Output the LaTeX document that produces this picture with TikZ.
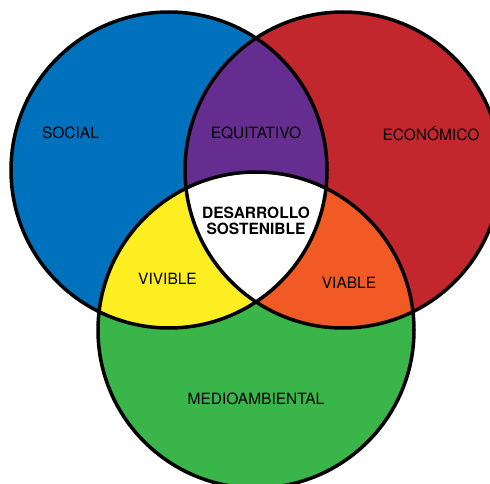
\documentclass[tikz,border=0pt]{standalone}
\usepackage{fontspec}
\setmainfont{TeX Gyre Heros}
\usepackage{tikz}
\usetikzlibrary{positioning}
\definecolor{socialblue}{RGB}{0,113,188}
\definecolor{econred}{RGB}{193,39,45}
\definecolor{envgreen}{RGB}{57,181,74}
\definecolor{eqpurple}{RGB}{102,45,145}
\definecolor{livyellow}{RGB}{252,238,33}
\definecolor{viaorange}{RGB}{241,90,36}

\begin{document}
\begin{tikzpicture}[x=1pt,y=-1pt,
  ring/.style={draw=black,line width=3.5pt},
  lbl/.style={font=\fontsize{15.5}{17}\selectfont,text=black,inner sep=0pt},
  core/.style={font=\fontsize{15.5}{16.5}\selectfont\bfseries,align=center,inner sep=0pt}]

\useasboundingbox (0,0) rectangle (490,484);

% the three circles
\fill[socialblue] (169,170) circle (158);
\fill[econred] (343,170) circle (158);
\fill[envgreen] (256,330) circle (158);

% overlaps
\begin{scope}
\clip (169,170) circle (158);
\fill[eqpurple] (343,170) circle (158);
\fill[livyellow] (256,330) circle (158);
\end{scope}
\begin{scope}
\clip (343,170) circle (158);
\fill[viaorange] (256,330) circle (158);
\end{scope}
\begin{scope}
\clip (169,170) circle (158);
\clip (343,170) circle (158);
\fill[white] (256,330) circle (158);
\end{scope}

\draw[ring] (169,170) circle (158);
\draw[ring] (343,170) circle (158);
\draw[ring] (256,330) circle (158);

\node[lbl] (social) at (70.5,133) {SOCIAL};
\node[lbl] (equit) at (256,133) {EQUITATIVO};
\node[lbl] (econ) at (431,134) {ECONÓMICO};
\node[core] (desarrollo) at (256,221) {DESARROLLO\\SOSTENIBLE};
\node[lbl] (vivible) at (167.5,279) {VIVIBLE};
\node[lbl] (viable) at (349,283) {VIABLE};
\node[lbl] (medio) at (256,399) {MEDIOAMBIENTAL};

\end{tikzpicture}
\end{document}
